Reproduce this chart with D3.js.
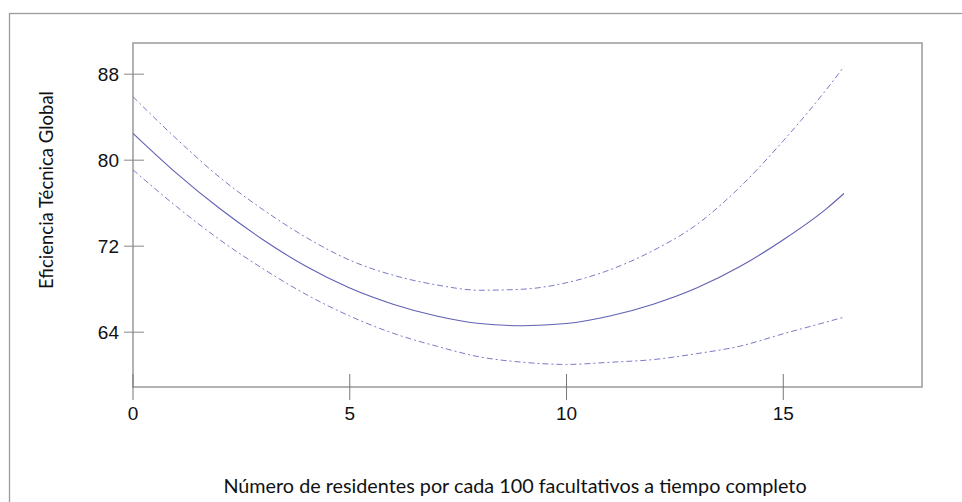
<!DOCTYPE html>
<meta charset="utf-8">
<script src="https://d3js.org/d3.v7.min.js"></script>
<style>
body { margin: 0; background: #fff; }
.tickLabel { font-family: "Liberation Sans", Arial, sans-serif; font-size: 19px; fill: #111; }
.axisTitle { font-family: Lato, "Open Sans", sans-serif; fill: #111; }
</style>
<body></body>
<script>
// x values where the curves were read
const xs = [0, 1, 2, 3, 4, 5, 6, 7, 8, 9, 10, 11, 12, 13, 14, 15, 16, 16.4];
// fitted curve (solid)
const fitValues = [82.5, 78.8, 75.5, 72.6, 70.1, 68.1, 66.6, 65.5, 64.8, 64.6, 64.8, 65.5, 66.6, 68.1, 70.1, 72.6, 75.5, 76.9];
// upper band (dashed)
const upperValues = [85.9, 82.0, 78.4, 75.4, 72.8, 70.7, 69.3, 68.4, 67.9, 68.0, 68.6, 69.8, 71.6, 74.0, 77.5, 81.8, 86.6, 88.7];
// lower band (dashed)
const lowerValues = [79.1, 75.7, 72.6, 69.9, 67.5, 65.5, 63.9, 62.7, 61.7, 61.2, 61.0, 61.2, 61.45, 62.0, 62.7, 63.85, 64.95, 65.4];

const xTicks = [0, 5, 10, 15];
const yTicks = [64, 72, 80, 88];

const width = 962, height = 502;
const plot = {left: 133, right: 922, top: 43, bottom: 387};

const svg = d3.select("body").append("svg")
  .attr("width", width)
  .attr("height", height);

// outer frame (runs off the right and bottom of the picture)
svg.append("rect")
  .attr("x", 9.5).attr("y", 13.5)
  .attr("width", 1000).attr("height", 600)
  .attr("fill", "none")
  .attr("stroke", "#9a9a9a")
  .attr("stroke-width", 1.3);

const x = d3.scaleLinear().domain([0, 18.2]).range([plot.left, plot.right]);
const y = d3.scaleLinear().domain([58.9, 90.9]).range([plot.bottom, plot.top]);

// plot box
svg.append("rect")
  .attr("x", plot.left).attr("y", plot.top)
  .attr("width", plot.right - plot.left)
  .attr("height", plot.bottom - plot.top)
  .attr("fill", "none")
  .attr("stroke", "#9a9a9a")
  .attr("stroke-width", 1.5);

// x ticks, crossing the axis line
svg.selectAll(".xTick").data(xTicks).enter().append("line")
  .attr("x1", d => x(d)).attr("x2", d => x(d))
  .attr("y1", plot.bottom - 13).attr("y2", plot.bottom + 13)
  .attr("stroke", "#777").attr("stroke-width", 1);

svg.selectAll(".xLabel").data(xTicks).enter().append("text")
  .attr("class", "tickLabel")
  .attr("x", d => x(d))
  .attr("y", 420)
  .attr("text-anchor", "middle")
  .text(d => d);

// y ticks
svg.selectAll(".yTick").data(yTicks).enter().append("line")
  .attr("x1", plot.left - 9).attr("x2", plot.left + 11)
  .attr("y1", d => y(d)).attr("y2", d => y(d))
  .attr("stroke", "#888").attr("stroke-width", 1);

svg.selectAll(".yLabel").data(yTicks).enter().append("text")
  .attr("class", "tickLabel")
  .attr("x", 119)
  .attr("y", d => y(d) + 7)
  .attr("text-anchor", "end")
  .text(d => d);

// curves
const line = d3.line()
  .x(d => x(d[0]))
  .y(d => y(d[1]))
  .curve(d3.curveMonotoneX);

const series = [
  {values: upperValues, dash: "6,3,2,3", color: "#7a7ac8", w: 1},
  {values: fitValues, dash: null, color: "#6060b4", w: 1.1},
  {values: lowerValues, dash: "6,3,2,3", color: "#7a7ac8", w: 1}
];

series.forEach(s => {
  svg.append("path")
    .datum(xs.map((v, i) => [v, s.values[i]]))
    .attr("d", line)
    .attr("fill", "none")
    .attr("stroke", s.color)
    .attr("stroke-width", s.w)
    .attr("stroke-dasharray", s.dash);
});

// axis titles
svg.append("text")
  .attr("class", "axisTitle")
  .attr("x", 515).attr("y", 493)
  .attr("text-anchor", "middle")
  .style("font-size", "19.8px")
  .text("Número de residentes por cada 100 facultativos a tiempo completo");

svg.append("text")
  .attr("class", "axisTitle")
  .attr("transform", "translate(53,190) rotate(-90)")
  .attr("text-anchor", "middle")
  .style("font-size", "18.5px")
  .text("Eficiencia Técnica Global");
</script>
